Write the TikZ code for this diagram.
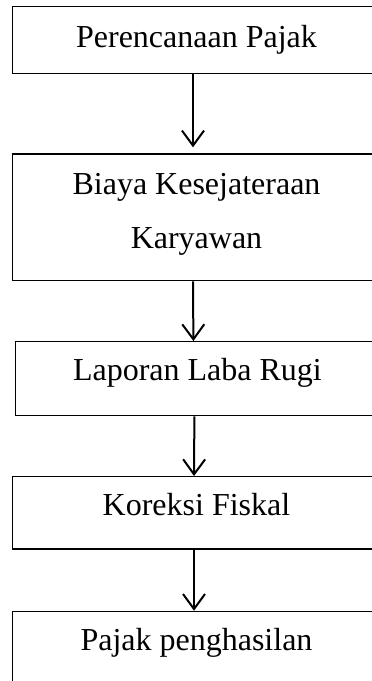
\documentclass[tikz,border=0pt]{standalone}
\usepackage{fontspec}
\setmainfont{Liberation Serif}
\usetikzlibrary{positioning, arrows.meta}

\begin{document}
\begin{tikzpicture}[x=1pt, y=-1pt, ->, >={Straight Barb[length=15pt,width=22pt]},
    every node/.style={font=\fontsize{32}{54}\selectfont},
    proses/.style={draw, line width=1.3pt, minimum width=368pt, inner sep=0pt, align=center, anchor=north},
    alur/.style={line width=2pt}]
    \clip (0,0) rectangle (372,681);

    \node[proses, text height=40.7pt, text depth=26pt] (perencanaan) at (196.5,6) {Perencanaan Pajak};
    \node[proses, text height=94.7pt, text depth=32pt] (biaya) at (196.5,153.3) {Biaya Kesejateraan\\Karyawan};
    \node[proses, minimum width=364pt, text height=39pt, text depth=35pt] (laporan) at (197.4,341) {Laporan Laba Rugi};
    \node[proses, text height=39pt, text depth=33.3pt] (koreksi) at (196.5,476) {Koreksi Fiskal};
    \node[proses, text height=39.5pt, text depth=50pt] (pph) at (196.5,610.7) {Pajak penghasilan};

    \draw[alur, shorten >=6pt] ([xshift=-3.5pt]perencanaan.south) -- ([xshift=-3.5pt]biaya.north);
    \draw[alur] ([xshift=-3.5pt]biaya.south) -- ([xshift=-4pt]laporan.north);
    \draw[alur] ([xshift=-3pt]laporan.south) -- ([xshift=-2.5pt]koreksi.north);
    \draw[alur] ([xshift=-2.5pt]koreksi.south) -- ([xshift=-2.5pt]pph.north);
\end{tikzpicture}
\end{document}
